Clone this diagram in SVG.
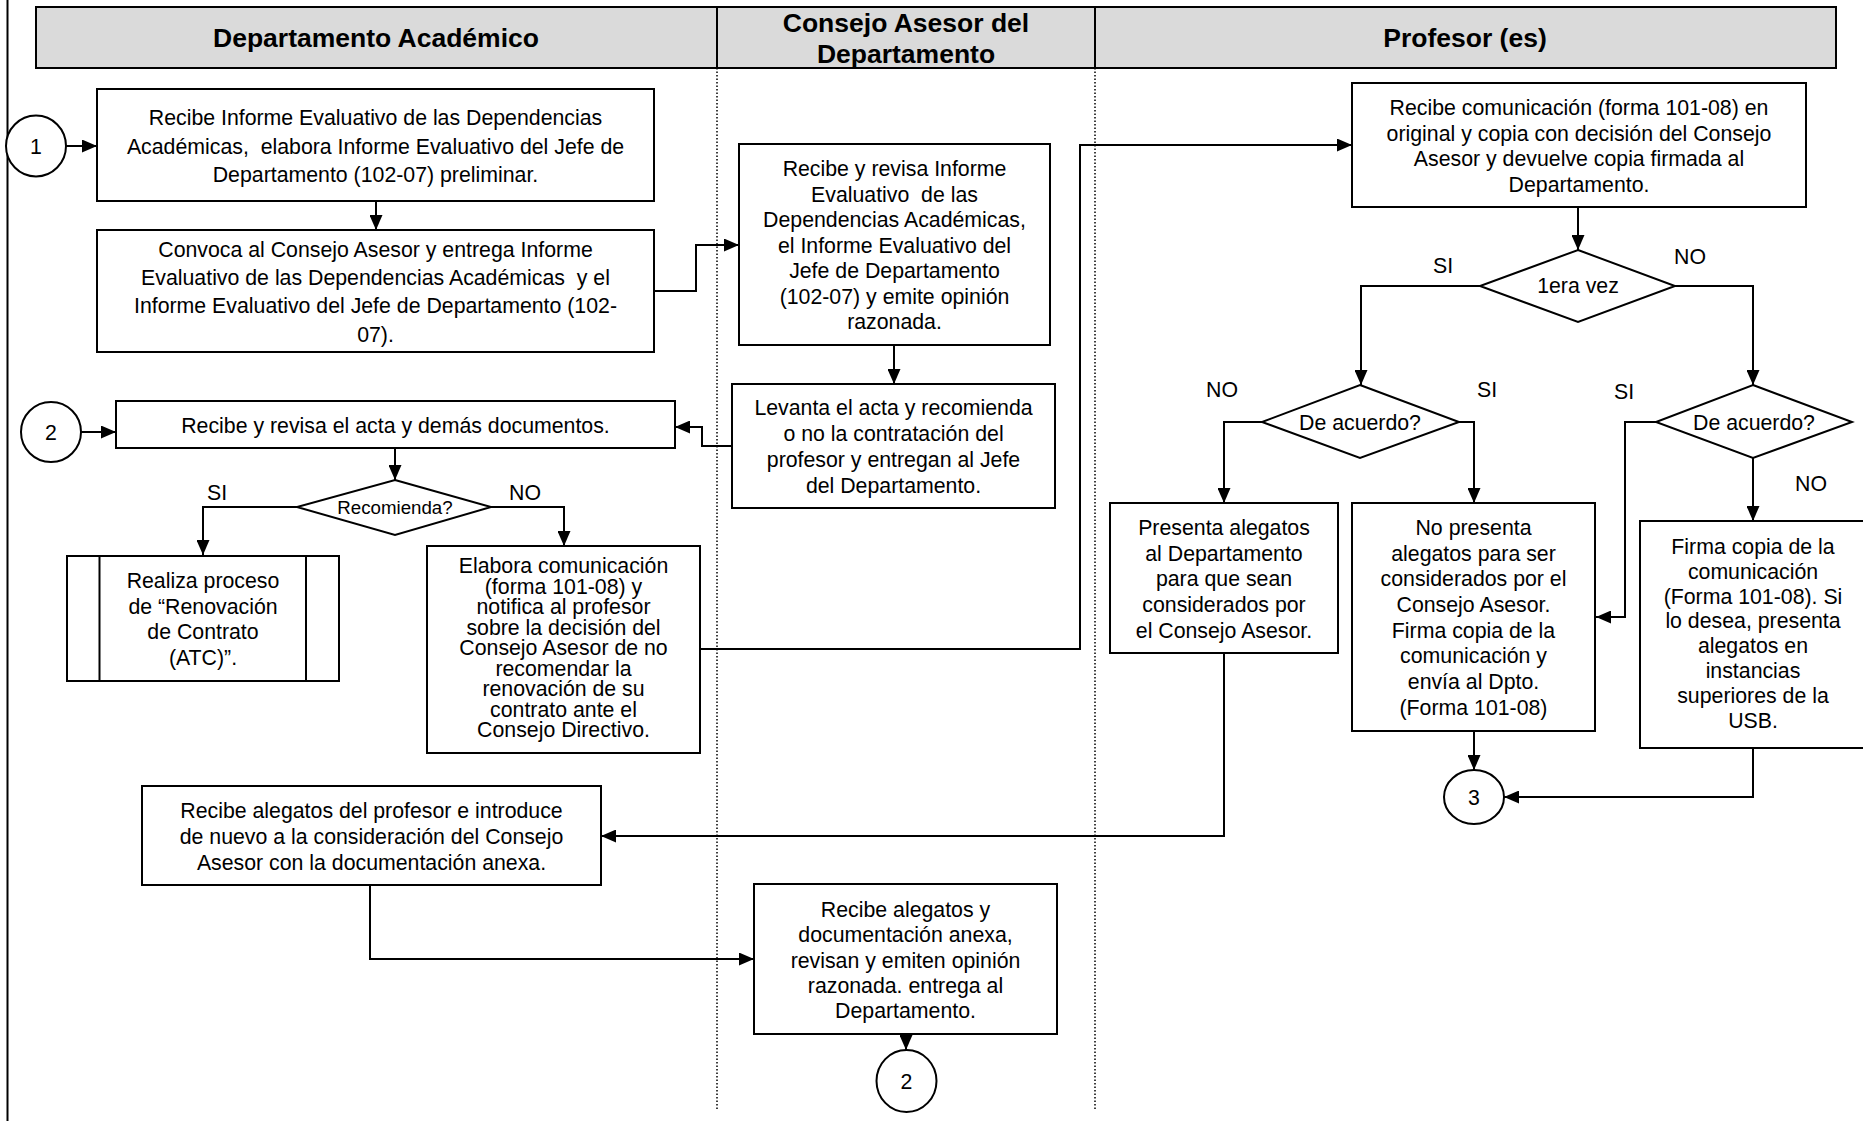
<svg xmlns="http://www.w3.org/2000/svg" width="1863" height="1121" viewBox="0 0 1863 1121">
  <style>
    .bg { fill: #ffffff; }
    .lane-head { fill: #dadada; stroke: #000; stroke-width: 2; }
    .lane-sep { stroke: #000; stroke-width: 1.5; stroke-dasharray: 1.5 2; fill: none; }
    .frame { stroke: #000; stroke-width: 2; fill: none; }
    .box { fill: #fff; stroke: #000; stroke-width: 2; }
    .conn { fill: none; stroke: #000; stroke-width: 2; }
    text { font-family: "Liberation Sans", Arial, sans-serif; fill: #000; }
    .head { font-size: 26.5px; font-weight: bold; text-anchor: middle; }
    .t { font-size: 21.3px; text-anchor: middle; }
    .ts { font-size: 18.7px; text-anchor: middle; }
    .lbl { font-size: 21.3px; text-anchor: middle; }
  </style>
  <defs>
    <marker id="arrow" markerUnits="userSpaceOnUse" viewBox="0 0 15 13" refX="15" refY="6.5" markerWidth="15" markerHeight="13" orient="auto">
      <path d="M0,0 L15,6.5 L0,13 z" fill="#000"/>
    </marker>
  </defs>

  <rect class="bg" x="0" y="0" width="1863" height="1121"/>

  <!-- swimlane headers and separators -->
  <g id="lanes">
    <rect class="lane-head" x="36" y="7" width="1800" height="61"/>
    <line x1="717" y1="7" x2="717" y2="68" stroke="#000" stroke-width="2"/>
    <line x1="1095" y1="7" x2="1095" y2="68" stroke="#000" stroke-width="2"/>
    <text class="head" x="376" y="47">Departamento Académico</text>
    <text class="head" x="906" y="32">Consejo Asesor del</text>
    <text class="head" x="906" y="63">Departamento</text>
    <text class="head" x="1465" y="47">Profesor (es)</text>
    <line class="lane-sep" x1="717" y1="68" x2="717" y2="1110"/>
    <line class="lane-sep" x1="1095" y1="68" x2="1095" y2="1110"/>
    <line class="frame" x1="7.5" y1="0" x2="7.5" y2="1121"/>
  </g>

  <!-- connectors -->
  <g id="connectors">
    <path class="conn" d="M66,146 H97" marker-end="url(#arrow)"/>
    <path class="conn" d="M376,201 V230" marker-end="url(#arrow)"/>
    <path class="conn" d="M654,291 H696 V245 H739" marker-end="url(#arrow)"/>
    <path class="conn" d="M894,345 V384" marker-end="url(#arrow)"/>
    <path class="conn" d="M732,446 H702 V427 H675" marker-end="url(#arrow)"/>
    <path class="conn" d="M81,432 H116" marker-end="url(#arrow)"/>
    <path class="conn" d="M395,448 V480" marker-end="url(#arrow)"/>
    <path class="conn" d="M297,507 H203 V555" marker-end="url(#arrow)"/>
    <path class="conn" d="M491,507 H564 V546" marker-end="url(#arrow)"/>
    <path class="conn" d="M700,649 H1080 V145 H1352" marker-end="url(#arrow)"/>
    <path class="conn" d="M1578,207 V250" marker-end="url(#arrow)"/>
    <path class="conn" d="M1480,286 H1361 V385" marker-end="url(#arrow)"/>
    <path class="conn" d="M1675,286 H1753 V385" marker-end="url(#arrow)"/>
    <path class="conn" d="M1262,422 H1224 V503" marker-end="url(#arrow)"/>
    <path class="conn" d="M1459,422 H1474 V503" marker-end="url(#arrow)"/>
    <path class="conn" d="M1656,422 H1625 V617 H1596" marker-end="url(#arrow)"/>
    <path class="conn" d="M1753,458 V521" marker-end="url(#arrow)"/>
    <path class="conn" d="M1224,653 V836 H601" marker-end="url(#arrow)"/>
    <path class="conn" d="M1474,731 V770" marker-end="url(#arrow)"/>
    <path class="conn" d="M1753,748 V797 H1504" marker-end="url(#arrow)"/>
    <path class="conn" d="M370,885 V959 H754" marker-end="url(#arrow)"/>
    <path class="conn" d="M906,1034 V1050" marker-end="url(#arrow)"/>
    <!-- branch labels -->
    <text class="lbl" x="217" y="500">SI</text>
    <text class="lbl" x="525" y="500">NO</text>
    <text class="lbl" x="1443" y="273">SI</text>
    <text class="lbl" x="1690" y="264">NO</text>
    <text class="lbl" x="1222" y="397">NO</text>
    <text class="lbl" x="1487" y="397">SI</text>
    <text class="lbl" x="1624" y="399">SI</text>
    <text class="lbl" x="1811" y="491">NO</text>
  </g>

  <g id="start-1">
    <ellipse class="box" cx="36" cy="146" rx="30" ry="30.5"/>
    <text class="t" x="36" y="154">1</text>
  </g>

  <g id="recibe-informe">
    <rect class="box" x="97" y="89" width="557" height="112"/>
    <text class="t" xml:space="preserve"><tspan x="375.5" y="125">Recibe Informe Evaluativo de las Dependencias</tspan><tspan x="375.5" y="153.5">Académicas,  elabora Informe Evaluativo del Jefe de</tspan><tspan x="375.5" y="182">Departamento (102-07) preliminar.</tspan></text>
  </g>

  <g id="convoca-consejo">
    <rect class="box" x="97" y="230" width="557" height="122"/>
    <text class="t" xml:space="preserve"><tspan x="375.5" y="257">Convoca al Consejo Asesor y entrega Informe</tspan><tspan x="375.5" y="285">Evaluativo de las Dependencias Académicas  y el</tspan><tspan x="375.5" y="313">Informe Evaluativo del Jefe de Departamento (102-</tspan><tspan x="375.5" y="342">07).</tspan></text>
  </g>

  <g id="revisa-informe">
    <rect class="box" x="739" y="144" width="311" height="201"/>
    <text class="t" xml:space="preserve"><tspan x="894.5" y="176">Recibe y revisa Informe</tspan><tspan x="894.5" y="201.5">Evaluativo  de las</tspan><tspan x="894.5" y="227">Dependencias Académicas,</tspan><tspan x="894.5" y="252.5">el Informe Evaluativo del</tspan><tspan x="894.5" y="278">Jefe de Departamento</tspan><tspan x="894.5" y="303.5">(102-07) y emite opinión</tspan><tspan x="894.5" y="329">razonada.</tspan></text>
  </g>

  <g id="levanta-acta">
    <rect class="box" x="732" y="384" width="323" height="124"/>
    <text class="t"><tspan x="893.5" y="415">Levanta el acta y recomienda</tspan><tspan x="893.5" y="441">o no la contratación del</tspan><tspan x="893.5" y="467">profesor y entregan al Jefe</tspan><tspan x="893.5" y="493">del Departamento.</tspan></text>
  </g>

  <g id="start-2">
    <ellipse class="box" cx="51" cy="432" rx="30" ry="30"/>
    <text class="t" x="51" y="440">2</text>
  </g>

  <g id="revisa-acta">
    <rect class="box" x="116" y="401" width="559" height="47"/>
    <text class="t" x="395.5" y="433">Recibe y revisa el acta y demás documentos.</text>
  </g>

  <g id="recomienda">
    <polygon class="box" points="395,480 491,507 395,535 297,507"/>
    <text class="ts" x="395" y="514">Recomienda?</text>
  </g>

  <g id="renovacion-contrato">
    <rect class="box" x="67" y="556" width="272" height="125"/>
    <line class="conn" x1="99.5" y1="556" x2="99.5" y2="681"/>
    <line class="conn" x1="306" y1="556" x2="306" y2="681"/>
    <text class="t"><tspan x="203" y="588">Realiza proceso</tspan><tspan x="203" y="613.5">de “Renovación</tspan><tspan x="203" y="639">de Contrato</tspan><tspan x="203" y="665">(ATC)”.</tspan></text>
  </g>

  <g id="elabora-comunicacion">
    <rect class="box" x="427" y="546" width="273" height="207"/>
    <text class="t"><tspan x="563.5" y="573">Elabora comunicación</tspan><tspan x="563.5" y="593.5">(forma 101-08) y</tspan><tspan x="563.5" y="614">notifica al profesor</tspan><tspan x="563.5" y="634.5">sobre la decisión del</tspan><tspan x="563.5" y="655">Consejo Asesor de no</tspan><tspan x="563.5" y="675.5">recomendar la</tspan><tspan x="563.5" y="696">renovación de su</tspan><tspan x="563.5" y="716.5">contrato ante el</tspan><tspan x="563.5" y="737">Consejo Directivo.</tspan></text>
  </g>

  <g id="recibe-comunicacion">
    <rect class="box" x="1352" y="83" width="454" height="124"/>
    <text class="t"><tspan x="1579" y="115">Recibe comunicación (forma 101-08) en</tspan><tspan x="1579" y="140.5">original y copia con decisión del Consejo</tspan><tspan x="1579" y="166">Asesor y devuelve copia firmada al</tspan><tspan x="1579" y="191.5">Departamento.</tspan></text>
  </g>

  <g id="primera-vez">
    <polygon class="box" points="1578,250 1675,286 1578,322 1480,286"/>
    <text class="t" x="1578" y="293">1era vez</text>
  </g>

  <g id="de-acuerdo-1">
    <polygon class="box" points="1360,385 1459,422 1360,458 1262,422"/>
    <text class="t" x="1360" y="430">De acuerdo?</text>
  </g>

  <g id="de-acuerdo-2">
    <polygon class="box" points="1753,385 1852,422 1753,458 1656,422"/>
    <text class="t" x="1754" y="430">De acuerdo?</text>
  </g>

  <g id="presenta-alegatos">
    <rect class="box" x="1110" y="503" width="228" height="150"/>
    <text class="t"><tspan x="1224" y="535">Presenta alegatos</tspan><tspan x="1224" y="560.7">al Departamento</tspan><tspan x="1224" y="586.4">para que sean</tspan><tspan x="1224" y="612">considerados por</tspan><tspan x="1224" y="637.7">el Consejo Asesor.</tspan></text>
  </g>

  <g id="no-presenta">
    <rect class="box" x="1352" y="503" width="243" height="228"/>
    <text class="t"><tspan x="1473.5" y="535">No presenta</tspan><tspan x="1473.5" y="560.7">alegatos para ser</tspan><tspan x="1473.5" y="586.4">considerados por el</tspan><tspan x="1473.5" y="612">Consejo Asesor.</tspan><tspan x="1473.5" y="637.7">Firma copia de la</tspan><tspan x="1473.5" y="663.4">comunicación y</tspan><tspan x="1473.5" y="689">envía al Dpto.</tspan><tspan x="1473.5" y="714.7">(Forma 101-08)</tspan></text>
  </g>

  <g id="firma-copia">
    <rect class="box" x="1640" y="521" width="226" height="227"/>
    <text class="t"><tspan x="1753" y="554">Firma copia de la</tspan><tspan x="1753" y="578.8">comunicación</tspan><tspan x="1753" y="603.6">(Forma 101-08). Si</tspan><tspan x="1753" y="628.4">lo desea, presenta</tspan><tspan x="1753" y="653.2">alegatos en</tspan><tspan x="1753" y="678">instancias</tspan><tspan x="1753" y="702.8">superiores de la</tspan><tspan x="1753" y="727.6">USB.</tspan></text>
  </g>

  <g id="end-3">
    <ellipse class="box" cx="1474" cy="797" rx="30" ry="27"/>
    <text class="t" x="1474" y="805">3</text>
  </g>

  <g id="recibe-alegatos-dpto">
    <rect class="box" x="142" y="786" width="459" height="99"/>
    <text class="t"><tspan x="371.5" y="818">Recibe alegatos del profesor e introduce</tspan><tspan x="371.5" y="844">de nuevo a la consideración del Consejo</tspan><tspan x="371.5" y="870">Asesor con la documentación anexa.</tspan></text>
  </g>

  <g id="recibe-alegatos-consejo">
    <rect class="box" x="754" y="884" width="303" height="150"/>
    <text class="t"><tspan x="905.5" y="917">Recibe alegatos y</tspan><tspan x="905.5" y="942.3">documentación anexa,</tspan><tspan x="905.5" y="967.6">revisan y emiten opinión</tspan><tspan x="905.5" y="992.9">razonada. entrega al</tspan><tspan x="905.5" y="1018.2">Departamento.</tspan></text>
  </g>

  <g id="end-2">
    <ellipse class="box" cx="906.5" cy="1081" rx="30" ry="31"/>
    <text class="t" x="906.5" y="1089">2</text>
  </g>
</svg>
